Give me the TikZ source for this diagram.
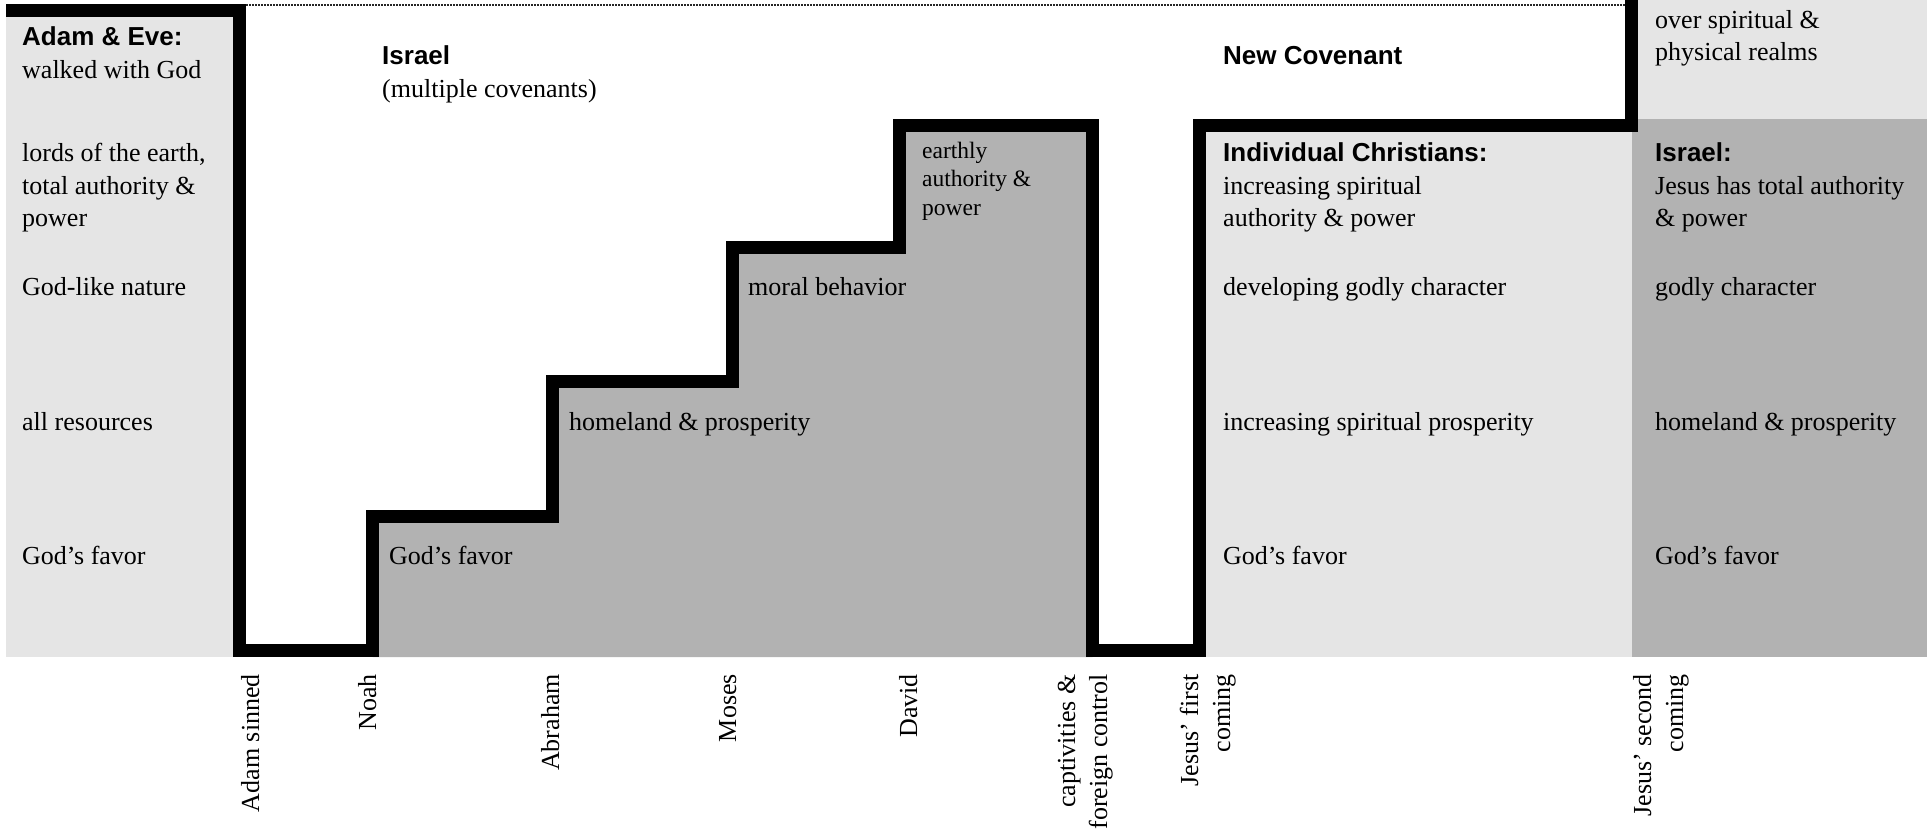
\documentclass[tikz,border=0pt]{standalone}
\usepackage{fontspec}
\setmainfont{Liberation Serif}
\newfontfamily\hdfont{Liberation Sans}
\definecolor{lg}{RGB}{229,229,229}
\definecolor{dg}{RGB}{178,178,178}
\begin{document}
\begin{tikzpicture}[x=1pt,y=-1pt,
  body/.style={anchor=base west, inner sep=0pt, font=\fontsize{26}{31}\selectfont},
  head/.style={anchor=base west, inner sep=0pt, font=\hdfont\bfseries\fontsize{26}{31}\selectfont},
  small/.style={anchor=base west, inner sep=0pt, font=\fontsize{23.5}{28}\selectfont},
  tick/.style={anchor=base east, inner sep=0pt, rotate=90, font=\fontsize{26}{31}\selectfont},
  wall/.style={line width=13pt, line join=miter, line cap=butt},
  dotline/.style={line width=1.8pt, dash pattern=on 1.5pt off 1.5pt, black!85}]
\useasboundingbox (0,0) rectangle (1927,832);
% backgrounds
\fill[lg] (6,4) rectangle (239.5,657);
\fill[dg] (372.5,657) -- (372.5,516) -- (552.5,516) -- (552.5,381.5) -- (732.5,381.5)
  -- (732.5,247) -- (899.5,247) -- (899.5,125.5) -- (1092.5,125.5) -- (1092.5,657) -- cycle;
\fill[lg] (1199.5,125.5) rectangle (1631.5,657);
\fill[lg] (1631.5,0) rectangle (1927,119);
\fill[dg] (1631.5,119) rectangle (1927,657);
% dotted top line
\draw[dotline] (246,5) -- (1625,5);
% the black wall
\draw[wall] (6,10.5) -- (239.5,10.5) -- (239.5,650.5) -- (372.5,650.5) -- (372.5,516)
  -- (552.5,516) -- (552.5,381.5) -- (732.5,381.5) -- (732.5,247) -- (899.5,247)
  -- (899.5,125.5) -- (1092.5,125.5) -- (1092.5,650.5) -- (1199.5,650.5)
  -- (1199.5,125.5) -- (1631.5,125.5) -- (1631.5,0);
% left column
\node[head] (ae) at (22,46) {Adam \& Eve:};
\node[body] (ae1) at (22,78.5) {walked with God};
\node[body] (ae2) at (22,161) {lords of the earth,};
\node[body] (ae3) at (22,194) {total authority \&};
\node[body] (ae4) at (22,226.5) {power};
\node[body] (ae5) at (22,295) {God-like nature};
\node[body] (ae6) at (22,430) {all resources};
\node[body] (ae7) at (22,564) {God’s favor};
% Israel
\node[head] (is) at (382,65) {Israel};
\node[body] (is1) at (382,97.5) {(multiple covenants)};
\node[body] (st1) at (389,564) {God’s favor};
\node[body] (st2) at (569,430) {homeland \& prosperity};
\node[body] (st3) at (748,295) {moral behavior};
\node[small] (st4) at (922,158) {earthly};
\node[small] (st5) at (922,186.5) {authority \&};
\node[small] (st6) at (922,215.5) {power};
% New Covenant
\node[head] (nc) at (1223,65) {New Covenant};
\node[head] (ic) at (1223,161) {Individual Christians:};
\node[body] (ic1) at (1223,194) {increasing spiritual};
\node[body] (ic2) at (1223,226.5) {authority \& power};
\node[body] (ic3) at (1223,295) {developing godly character};
\node[body] (ic4) at (1223,430) {increasing spiritual prosperity};
\node[body] (ic5) at (1223,564) {God’s favor};
% right column
\node[body] (rc1) at (1655,28.5) {over spiritual \&};
\node[body] (rc2) at (1655,61) {physical realms};
\node[head] (ri) at (1655,161) {Israel:};
\node[body] (ri1) at (1655,194) {Jesus has total authority};
\node[body] (ri2) at (1655,226.5) {\& power};
\node[body] (ri3) at (1655,295) {godly character};
\node[body] (ri4) at (1655,430) {homeland \& prosperity};
\node[body] (ri5) at (1655,564) {God’s favor};
% timeline labels
\node[tick] (t1) at (259,674) {Adam sinned};
\node[tick] (t2) at (376,674) {Noah};
\node[tick] (t3) at (559,674) {Abraham};
\node[tick] (t4) at (736,674) {Moses};
\node[tick] (t5) at (917,674) {David};
\node[tick] (t6a) at (1075,674) {captivities \&};
\node[tick] (t6b) at (1107,674) {foreign control};
\node[tick] (t7a) at (1198,674) {Jesus’ first};
\node[tick] (t7b) at (1230,674) {coming};
\node[tick] (t8a) at (1651,674) {Jesus’ second};
\node[tick] (t8b) at (1683,674) {coming};
\end{tikzpicture}
\end{document}
